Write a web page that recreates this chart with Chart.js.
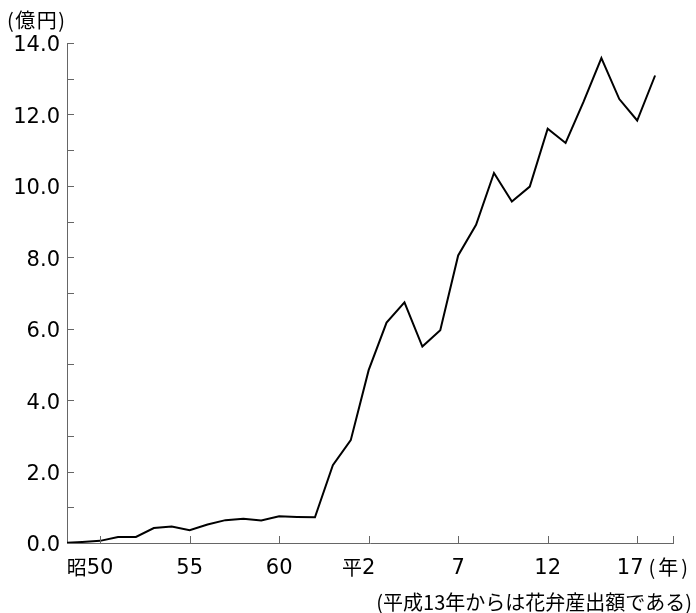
<!DOCTYPE html>
<html>
<head>
<meta charset="utf-8">
<script src="https://cdn.jsdelivr.net/npm/chart.js@4/dist/chart.umd.min.js"></script>
<style>
html,body{margin:0;padding:0;background:#fff;}
canvas{display:block;}
</style>
</head>
<body>
<canvas id="c" width="696" height="613"></canvas>
<script>
const years = [1973,1974,1975,1976,1977,1978,1979,1980,1981,1982,1983,1984,1985,1986,1987,1988,1989,1990,1991,1992,1993,1994,1995,1996,1997,1998,1999,2000,2001,2002,2003,2004,2005,2006];
const values = [0.0,0.03,0.06,0.17,0.17,0.42,0.46,0.36,0.52,0.64,0.68,0.63,0.75,0.73,0.72,2.18,2.88,4.84,6.17,6.74,5.50,5.96,8.05,8.91,10.36,9.56,9.98,11.60,11.20,12.35,13.58,12.43,11.83,13.09];
const xTickYears = [1975,1980,1985,1990,1995,2000,2005,2007];
const xTickLabels = ['50','55','60','2','7','12','17',''];
const xTickPrefix = ['昭','','','平','','','',''];
const xUnit = '(年)';
const yUnit = '(億円)';
const footnote = '(平成13年からは花弁産出額である)';

const AXIS = '#666';
const NUM_FONT = '21px "DejaVu Sans", "Noto Sans CJK JP", sans-serif';
const JP_FONT = '20px "Noto Sans CJK JP", sans-serif';

const decor = {
  id: 'decor',
  afterDraw(chart) {
    const ctx = chart.ctx;
    const xs = chart.scales.x, ys = chart.scales.y;
    const ca = chart.chartArea;
    ctx.save();
    // inward tick marks
    ctx.strokeStyle = AXIS;
    ctx.lineWidth = 1;
    ctx.beginPath();
    for (let v = 0; v <= 14; v++) {
      const y = Math.round(ys.getPixelForValue(v)) + 0.5;
      ctx.moveTo(ca.left, y);
      ctx.lineTo(ca.left + 7, y);
    }
    xTickYears.forEach(yr => {
      const x = Math.round(xs.getPixelForValue(yr)) + 0.5;
      ctx.moveTo(x, ca.bottom);
      ctx.lineTo(x, ca.bottom - 7);
    });
    ctx.stroke();
    // x labels
    ctx.fillStyle = '#000';
    ctx.textBaseline = 'alphabetic';
    const base = 574;
    xTickYears.forEach((yr, i) => {
      const t = xTickLabels[i];
      if (!t) return;
      const px = xs.getPixelForValue(yr);
      ctx.font = NUM_FONT;
      ctx.letterSpacing = '0px';
      const w = ctx.measureText(t).width;
      let x0 = px - w / 2;
      if (i === 6) x0 -= 7;
      ctx.textAlign = 'left';
      ctx.fillText(t, x0, base);
      if (xTickPrefix[i]) {
        ctx.font = JP_FONT;
        ctx.textAlign = 'right';
        ctx.fillText(xTickPrefix[i], x0, base + 1);
      }
      if (i === 6) {
        ctx.font = JP_FONT;
        ctx.letterSpacing = '3px';
        ctx.textAlign = 'left';
        ctx.fillText(xUnit, x0 + w + 5, base + 1);
        ctx.letterSpacing = '0px';
      }
    });
    // y unit
    ctx.font = JP_FONT;
    ctx.letterSpacing = '1.5px';
    ctx.textAlign = 'left';
    ctx.textBaseline = 'middle';
    ctx.fillText(yUnit, 7, 20);
    ctx.letterSpacing = '0px';
    // footnote
    ctx.textAlign = 'right';
    ctx.fillText(footnote, 692, 602);
    ctx.restore();
  }
};

new Chart(document.getElementById('c'), {
  type: 'line',
  data: {
    datasets: [{
      data: years.map((y, i) => ({x: y, y: values[i]})),
      borderColor: '#000',
      borderWidth: 2,
      pointRadius: 0,
      tension: 0,
      fill: false
    }]
  },
  options: {
    responsive: false,
    animation: false,
    devicePixelRatio: 1,
    layout: {padding: {top: 43, right: 23, left: 0, bottom: 0}},
    plugins: {legend: {display: false}, tooltip: {enabled: false}},
    scales: {
      x: {
        type: 'linear',
        min: 1973.15,
        max: 2007,
        grid: {display: false, drawTicks: false},
        border: {display: true, color: AXIS, width: 1},
        ticks: {display: false},
        afterFit: s => { s.height = 70; }
      },
      y: {
        min: 0,
        max: 14,
        grid: {display: false, drawTicks: false},
        border: {display: true, color: AXIS, width: 1},
        ticks: {
          stepSize: 1,
          autoSkip: false,
          padding: 7,
          labelOffset: 3,
          color: '#000',
          font: {family: '"DejaVu Sans", sans-serif', size: 21},
          callback: v => (v % 2 === 0 ? v.toFixed(1) : '')
        },
        afterFit: s => { s.width = 67; }
      }
    }
  },
  plugins: [decor]
});
</script>
</body>
</html>
